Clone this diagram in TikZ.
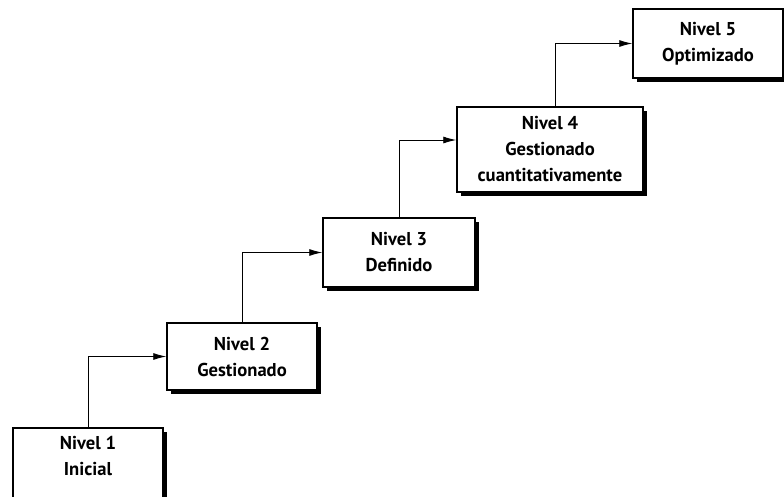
\documentclass[tikz,border=0pt]{standalone}
\usepackage{fontspec}
\setmainfont{PT Sans}
\usetikzlibrary{arrows.meta,shadows}
\begin{document}
\begin{tikzpicture}[x=1pt,y=-1pt,
  lvl/.style={draw, line width=1.5pt, fill=white, align=center, inner sep=0pt,
    font=\fontsize{18.6}{26}\selectfont\bfseries,
    drop shadow={opacity=1, fill=black, shadow xshift=3.5pt, shadow yshift=-3.5pt}},
  conn/.style={line width=0.9pt, -{Latex[length=13pt,width=7pt]}}]
\useasboundingbox (0,0) rectangle (784,496);
\node[lvl, minimum width=150pt, minimum height=72pt, text depth=17pt] (b1) at (88,464) {Nivel 1\\Inicial};
\node[lvl, minimum width=150pt, minimum height=67pt] (b2) at (242,356.5) {Nivel 2\\Gestionado};
\node[lvl, minimum width=152pt, minimum height=69pt] (b3) at (399,252.5) {Nivel 3\\Definido};
\node[lvl, minimum width=186pt, minimum height=85pt] (b4) at (550,149.5) {Nivel 4\\Gestionado\\cuantitativamente};
\node[lvl, minimum width=150pt, minimum height=69pt] (b5) at (708,43.5) {Nivel 5\\Optimizado};
\draw[conn] (b1.north) |- (b2.west);
\draw[conn] (b2.north) |- (b3.west);
\draw[conn] (b3.north) |- ([yshift=9.5pt]b4.west);
\draw[conn] ([xshift=5pt]b4.north) |- (b5.west);
\end{tikzpicture}
\end{document}
